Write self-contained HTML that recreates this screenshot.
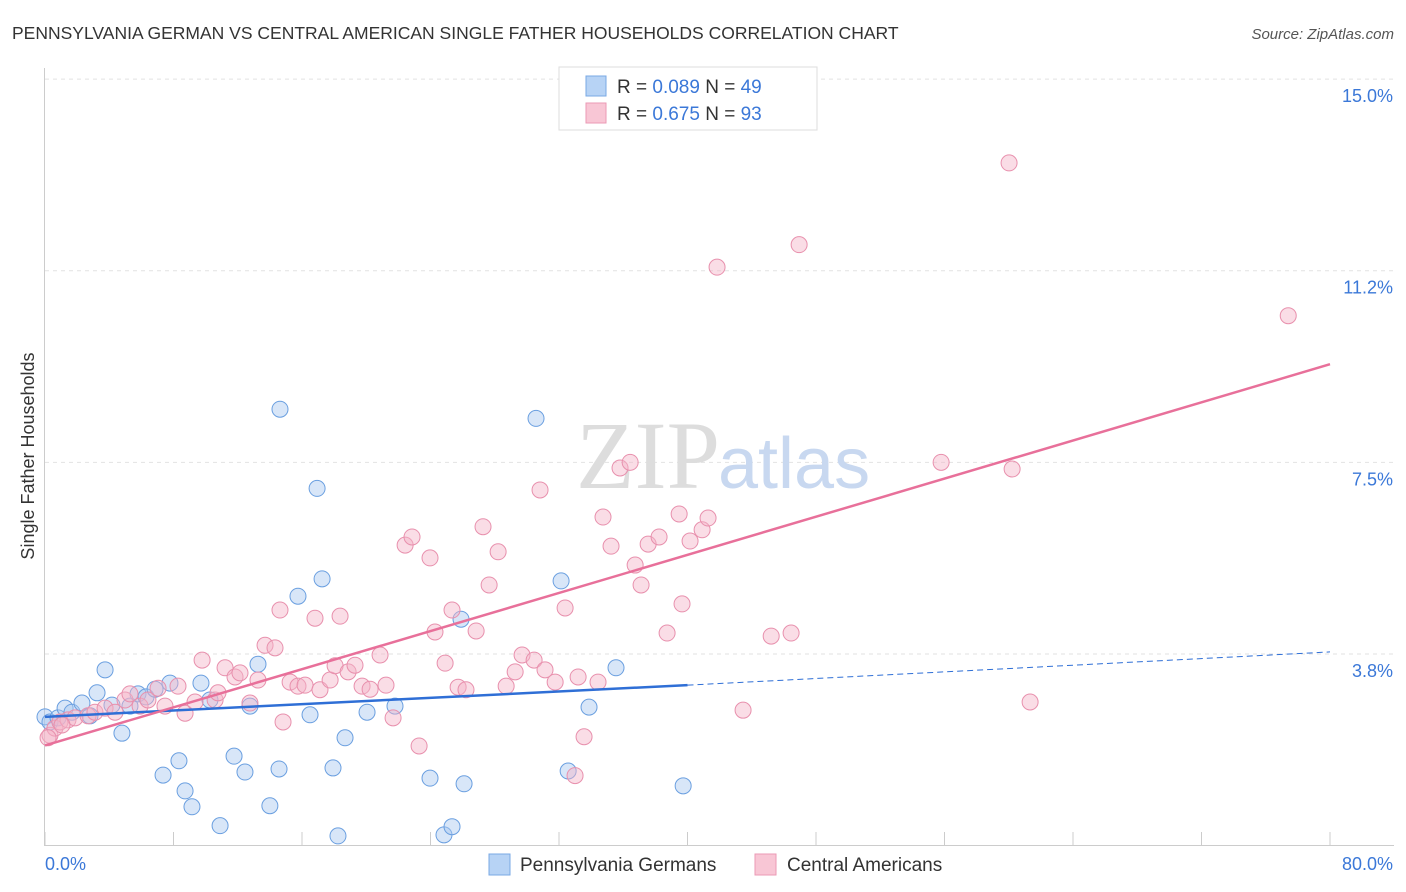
<!DOCTYPE html>
<html><head><meta charset="utf-8"><style>
body{margin:0;background:#fff;font-family:"Liberation Sans",sans-serif;}
svg{display:block}
</style></head><body>
<svg width="1406" height="892" xmlns="http://www.w3.org/2000/svg" id="chart">
<text x="12" y="39" font-size="17.5" fill="#333">PENNSYLVANIA GERMAN VS CENTRAL AMERICAN SINGLE FATHER HOUSEHOLDS CORRELATION CHART</text>
<text x="1394" y="39" font-size="15" fill="#555" font-style="italic" text-anchor="end">Source: ZipAtlas.com</text>
<g id="grid"></g>
<text x="720" y="488" font-family="Liberation Serif,serif" font-size="96" fill="#ddd" text-anchor="end">ZIP</text>
<text x="718" y="488" font-size="72" fill="#c8d8f0">atlas</text>
<g id="marks"></g>
<text transform="translate(34,456) rotate(-90)" font-size="18" fill="#333" text-anchor="middle">Single Father Households</text>
<g>
<rect x="559" y="67" width="258" height="63" fill="#fff" stroke="#ddd"/>
<rect x="586" y="76" width="20" height="20" fill="#b7d3f5" stroke="#7aa8e4"/>
<rect x="586" y="103" width="20" height="20" fill="#f8c6d5" stroke="#eb9ab5"/>
<text x="617" y="93" font-size="19" fill="#333">R = <tspan fill="#3b78d8">0.089</tspan>   N = <tspan fill="#3b78d8">49</tspan></text>
<text x="617" y="120" font-size="19" fill="#333">R = <tspan fill="#3b78d8"> 0.675</tspan>   N = <tspan fill="#3b78d8">93</tspan></text>
</g>
<g>
<rect x="489" y="854" width="21" height="21" fill="#b7d3f5" stroke="#7aa8e4"/>
<text x="520" y="871" font-size="19" fill="#333">Pennsylvania Germans</text>
<rect x="755" y="854" width="21" height="21" fill="#f8c6d5" stroke="#eb9ab5"/>
<text x="787" y="871" font-size="19" fill="#333">Central Americans</text>
</g>
</svg>
<script>
const yTicks=[3.8,7.5,11.2,15.0];
const yTickVals=[3.75,7.5,11.25,15];
const xTickLabels=["0.0%","80.0%"];
const blueX=[0,0.31,0.81,1.25,1.68,2.3,2.8,3.24,3.74,4.17,4.79,5.29,5.79,6.29,6.85,7.35,7.78,8.34,8.72,9.15,9.71,10.27,10.9,11.77,12.45,12.76,13.26,14.0,14.57,14.63,15.75,16.5,16.94,17.25,17.93,18.24,18.68,20.05,21.79,23.97,24.84,25.34,25.9,26.09,30.57,32.13,32.57,33.87,35.55,39.73];
const blueY=[2.52,2.42,2.50,2.69,2.61,2.79,2.54,2.99,3.44,2.75,2.20,2.73,2.97,2.91,3.06,1.38,3.18,1.66,1.07,0.76,3.18,2.85,0.39,1.75,1.44,2.73,3.55,0.78,1.50,8.54,4.88,2.56,6.99,5.22,1.52,0.19,2.11,2.61,2.73,1.32,0.21,0.37,4.43,1.21,8.36,5.18,1.46,2.71,3.48,1.17];
const pinkX=[0.31,0.62,0.93,1.43,1.87,2.68,3.11,3.74,4.36,4.98,5.29,5.92,6.41,7.04,7.47,8.28,8.72,9.34,9.78,10.59,10.77,11.21,11.83,12.14,12.76,13.26,13.70,14.32,14.63,14.82,15.26,15.75,16.19,16.81,17.12,17.75,18.06,18.37,18.87,19.30,19.74,20.24,20.86,21.23,21.67,22.42,22.85,23.29,23.97,24.28,24.91,25.34,25.72,26.21,26.84,27.27,27.65,28.21,28.71,29.27,29.70,30.45,30.82,31.13,31.76,32.38,33.19,33.56,34.43,33.00,34.74,35.24,35.80,36.43,36.74,37.11,37.55,38.23,38.73,39.48,39.66,40.16,40.91,41.28,41.84,43.46,45.21,46.45,46.95,55.79,60.02,60.21,61.33,77.40,0.19,1.06];
const pinkY=[2.16,2.30,2.42,2.46,2.50,2.54,2.61,2.69,2.61,2.85,2.97,2.73,2.85,3.08,2.73,3.12,2.59,2.81,3.63,2.85,2.99,3.48,3.30,3.38,2.79,3.24,3.92,3.87,4.61,2.42,3.20,3.12,3.14,4.45,3.05,3.24,3.52,4.49,3.40,3.53,3.12,3.06,3.73,3.14,2.50,5.88,6.04,1.95,5.63,4.18,3.57,4.61,3.10,3.05,4.20,6.24,5.10,5.75,3.12,3.40,3.73,3.63,6.96,3.44,3.20,4.65,3.30,2.13,3.20,1.37,6.43,5.86,7.39,7.50,5.49,5.10,5.90,6.04,4.16,6.49,4.73,5.96,6.18,6.41,11.32,2.65,4.10,4.16,11.76,7.50,13.36,7.37,2.81,10.37,2.11,2.36];
const blueLine=[2.52,3.14,3.79]; // values at x=0,40,80
const pinkLine=[1.96,9.42]; // values at x=0,80
const NS="http://www.w3.org/2000/svg";
const X=v=>45+v*(1330-45)/80;
const Y=v=>845.6-v*51.1;
function mk(t,a,p){const e=document.createElementNS(NS,t);for(const k in a)e.setAttribute(k,a[k]);p.appendChild(e);return e;}
const grid=document.getElementById('grid'),marks=document.getElementById('marks'),svg=document.getElementById('chart');
yTickVals.forEach((v,i)=>{
 const l=mk('line',{x1:45,x2:1394,y1:Y(v),y2:Y(v),stroke:'#e2e2e2','stroke-dasharray':'4,4'},grid);
 
 
 const t=mk('text',{x:1393,y:Y(v)+23,'font-size':18,fill:'#3b78d8','text-anchor':'end'},grid);
 t.textContent=yTicks[i].toFixed(1)+'%';
 
 
});
const ax=mk('line',{x1:45,x2:1394,y1:845.5,y2:845.5,stroke:'#ccc'},grid);


const ay=mk('line',{x1:44.5,x2:44.5,y1:68,y2:846,stroke:'#ccc'},grid);


for(let v=0;v<=80;v+=8){
 const t=mk('line',{x1:X(v),x2:X(v),y1:832,y2:846,stroke:'#ccc'},grid);
 
 
}
[[0,'start',45],[80,'end',1393]].forEach((d,i)=>{
 const t=mk('text',{x:d[2],y:870,'font-size':18,fill:'#3b78d8','text-anchor':d[1]},grid);
 t.textContent=xTickLabels[i];
 
 
});
function pts(xs,ys,fill,stroke,name){xs.forEach((x,i)=>{
 const c=mk('circle',{cx:X(x),cy:Y(ys[i]),r:8,fill:fill,'fill-opacity':0.45,stroke:stroke,'stroke-width':1},marks);
 
 
});}
pts(blueX,blueY,'#a8c8f0','#6a9fe0','point-pennsylvania-german');
pts(pinkX,pinkY,'#f5b3c8','#e890ad','point-central-american');
const b1=mk('line',{x1:X(0),y1:Y(blueLine[0]),x2:X(40),y2:Y(blueLine[1]),stroke:'#2f6fd6','stroke-width':2.5},marks);


const b2=mk('line',{x1:X(40),y1:Y(blueLine[1]),x2:X(80),y2:Y(blueLine[2]),stroke:'#2f6fd6','stroke-width':1,'stroke-dasharray':'6,4'},marks);


const p1=mk('line',{x1:X(0),y1:Y(pinkLine[0]),x2:X(80),y2:Y(pinkLine[1]),stroke:'#e8709a','stroke-width':2.5},marks);


</script>
</body></html>
